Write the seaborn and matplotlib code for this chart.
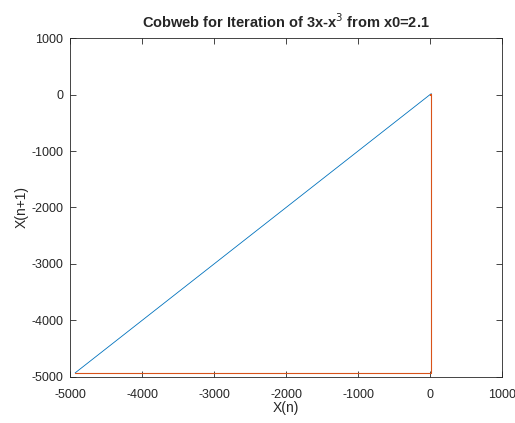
import matplotlib
matplotlib.use("Agg")
import matplotlib.pyplot as plt
import seaborn as sns
import pandas as pd

# Iterates of f(x) = 3x - x^3 starting at x0 = 2.1
iterates = [2.1, -2.961, 17.0776, -4929.4]

# Cobweb path: (x0,x0) -> (x0,x1) -> (x1,x1) -> ... -> (x3,x3)
web_x = [2.1, 2.1, -2.961, -2.961, 17.0776, 17.0776, -4929.4]
web_y = [2.1, -2.961, -2.961, 17.0776, 17.0776, -4929.4, -4929.4]

# Diagonal y = x across the range of the iterates
diag = [min(iterates), max(iterates)]

x_ticks = [-5000, -4000, -3000, -2000, -1000, 0, 1000]
y_ticks = [-5000, -4000, -3000, -2000, -1000, 0, 1000]

sns.set_theme(style="white")
plt.rcParams['font.family'] = ['Liberation Sans', 'DejaVu Sans']

fig = plt.figure(figsize=(5.15, 4.23), dpi=100)
ax = fig.add_axes([0.136, 0.109, 0.839, 0.801])

diag_df = pd.DataFrame({"x": diag, "y": diag})
web_df = pd.DataFrame({"x": web_x, "y": web_y})

sns.lineplot(data=diag_df, x="x", y="y", sort=False, estimator=None, ax=ax,
             color="#0072BD", linewidth=0.6)
sns.lineplot(data=web_df, x="x", y="y", sort=False, estimator=None, ax=ax,
             color="#D95319", linewidth=0.8)

ax.set_xlim(-5000, 1000)
ax.set_ylim(-5000, 1000)
ax.set_xticks(x_ticks)
ax.set_yticks(y_ticks)
ax.set_xticklabels([str(t) for t in x_ticks])
ax.set_yticklabels([str(t) for t in y_ticks])

ax.tick_params(direction="in", length=4, width=0.6, colors="#262626",
               labelsize=9, top=True, right=True, bottom=True, left=True,
               labeltop=False, labelright=False)
ax.tick_params(axis="x", pad=8.5)
ax.tick_params(axis="y", pad=5)
for s in ax.spines.values():
    s.set_color("#262626")
    s.set_linewidth(0.6)

ax.set_xlabel("X(n)", fontsize=10, color="#262626", labelpad=0)
ax.set_ylabel("X(n+1)", fontsize=10, color="#262626", labelpad=2)
ax.set_title("Cobweb for Iteration of 3x-x$^3$ from x0=2.1",
             fontsize=10.5, fontweight="bold", pad=7)

fig.savefig("out.png", dpi=100, facecolor="white")
